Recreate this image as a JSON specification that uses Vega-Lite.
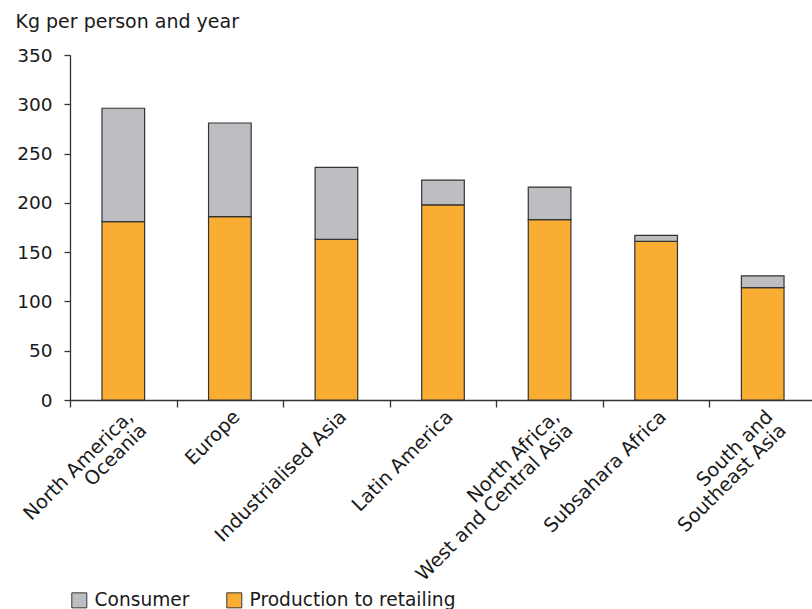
{
  "$schema": "https://vega.github.io/schema/vega-lite/v6.json",
  "width": 746,
  "height": 345,
  "autosize": {"type": "none"},
  "padding": {"left": 70, "top": 55, "right": 0, "bottom": 209},
  "background": "white",
  "config": {
    "font": "DejaVu Sans",
    "view": {"stroke": null},
    "axis": {"labelFont": "DejaVu Sans", "titleFont": "DejaVu Sans", "labelColor": "#1a1a1a", "titleColor": "#1a1a1a", "domainColor": "#333", "tickColor": "#333", "domainWidth": 1.3, "tickWidth": 1.3, "grid": false, "labelLimit": 0},
    "legend": {"labelFont": "DejaVu Sans", "labelColor": "#1a1a1a", "labelLimit": 0}
  },
  "data": {
    "values": [
      {"region": "North America, Oceania", "type": "Production to retailing", "value": 181},
      {"region": "North America, Oceania", "type": "Consumer", "value": 115},
      {"region": "Europe", "type": "Production to retailing", "value": 186},
      {"region": "Europe", "type": "Consumer", "value": 95},
      {"region": "Industrialised Asia", "type": "Production to retailing", "value": 163},
      {"region": "Industrialised Asia", "type": "Consumer", "value": 73},
      {"region": "Latin America", "type": "Production to retailing", "value": 198},
      {"region": "Latin America", "type": "Consumer", "value": 25},
      {"region": "North Africa, West and Central Asia", "type": "Production to retailing", "value": 183},
      {"region": "North Africa, West and Central Asia", "type": "Consumer", "value": 33},
      {"region": "Subsahara Africa", "type": "Production to retailing", "value": 161},
      {"region": "Subsahara Africa", "type": "Consumer", "value": 6},
      {"region": "South and Southeast Asia", "type": "Production to retailing", "value": 114},
      {"region": "South and Southeast Asia", "type": "Consumer", "value": 12}
    ]
  },
  "mark": {"type": "bar", "width": {"band": 0.4}, "stroke": "#333", "strokeWidth": 1.2},
  "encoding": {
    "x": {
      "field": "region",
      "type": "nominal",
      "sort": null,
      "scale": {"paddingInner": 0, "paddingOuter": 0},
      "axis": {
        "title": null,
        "tickBand": "extent",
        "tickSize": 7,
        "labelAngle": -45,
        "labelAlign": "right",
        "labelBaseline": "top",
        "labelPadding": 0,
        "labelDx": -8,
        "labelDy": -5,
        "labelFontSize": 19.3,
        "labelLineHeight": 19,
        "labelLimit": 0,
        "labelExpr": "datum.value == 'North America, Oceania' ? ['North America,', 'Oceania'] : datum.value == 'North Africa, West and Central Asia' ? ['North Africa,', 'West and Central Asia'] : datum.value == 'South and Southeast Asia' ? ['South and', 'Southeast Asia'] : datum.value"
      }
    },
    "y": {
      "field": "value",
      "type": "quantitative",
      "aggregate": "sum",
      "stack": "zero",
      "scale": {"domain": [0, 350], "nice": false},
      "axis": {
        "values": [0, 50, 100, 150, 200, 250, 300, 350],
        "title": "Kg per person and year",
        "titleAngle": 0,
        "titleAlign": "left",
        "titleBaseline": "alphabetic",
        "titleX": -55,
        "titleY": -28,
        "titleFontSize": 19,
        "titleFontWeight": "normal",
        "labelFontSize": 18.5,
        "tickSize": 6,
        "labelPadding": 12
      }
    },
    "color": {
      "field": "type",
      "type": "nominal",
      "scale": {"domain": ["Consumer", "Production to retailing"], "range": ["#BDBEC2", "#F9AE33"]},
      "legend": {
        "title": null,
        "orient": "none",
        "direction": "horizontal",
        "legendX": 0,
        "legendY": 536,
        "symbolType": "square",
        "symbolSize": 225,
        "symbolStrokeColor": "#333",
        "symbolStrokeWidth": 1,
        "labelFontSize": 18.6,
        "labelLimit": 0,
        "labelOffset": 6,
        "columnPadding": 34
      }
    },
    "order": {"field": "type", "sort": "descending"}
  }
}
